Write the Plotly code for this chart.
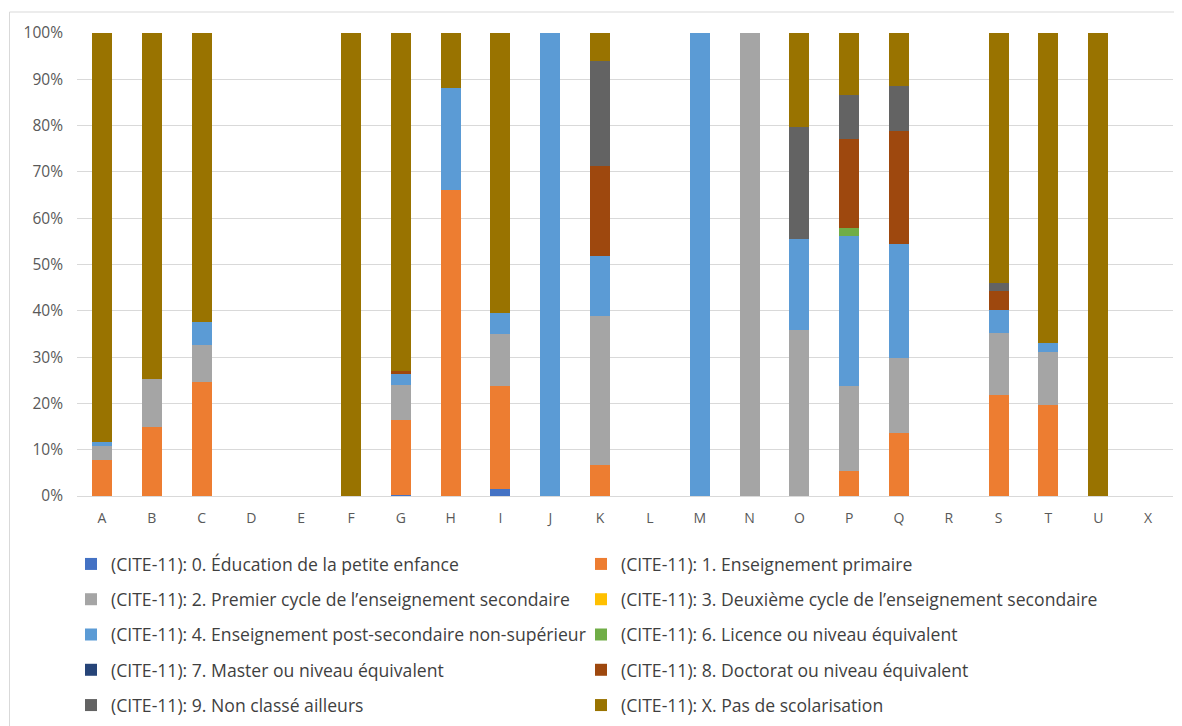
import plotly.graph_objects as go

categories = ["A","B","C","D","E","F","G","H","I","J","K","L","M","N","O","P","Q","R","S","T","U","X"]

s0 = [0,0,0,0,0,0,0.3,0,1.5,0,0,0,0,0,0,0,0,0,0,0,0,0]
s1 = [7.8,14.8,24.6,0,0,0,16.2,66.0,22.2,0,6.6,0,0,0,0,5.3,13.7,0,21.9,19.7,0,0]
s2 = [3.1,10.4,8.1,0,0,0,7.5,0,11.3,0,32.3,0,0,100,35.9,18.4,16.0,0,13.4,11.4,0,0]
s3 = [0]*22
s4 = [0.8,0,4.9,0,0,0,2.3,22.2,4.5,100,13.0,0,100,0,19.6,32.4,24.8,0,4.8,2.0,0,0]
s6 = [0,0,0,0,0,0,0,0,0,0,0,0,0,0,0,1.8,0,0,0,0,0,0]
s7 = [0]*22
s8 = [0,0,0,0,0,0,0.8,0,0,0,19.4,0,0,0,0,19.1,24.3,0,4.2,0,0,0]
s9 = [0,0,0,0,0,0,0,0,0,0,22.6,0,0,0,24.1,9.6,9.7,0,1.8,0,0,0]
sX = [88.3,74.8,62.4,0,0,100,72.9,11.8,60.5,0,6.1,0,0,0,20.4,13.4,11.5,0,53.9,66.9,100,0]

series_names = [
    "(CITE-11): 0. Éducation de la petite enfance",
    "(CITE-11): 1. Enseignement primaire",
    "(CITE-11): 2. Premier cycle de l’enseignement secondaire",
    "(CITE-11): 3. Deuxième cycle de l’enseignement secondaire",
    "(CITE-11): 4. Enseignement post-secondaire non-supérieur",
    "(CITE-11): 6. Licence ou niveau équivalent",
    "(CITE-11): 7. Master ou niveau équivalent",
    "(CITE-11): 8. Doctorat ou niveau équivalent",
    "(CITE-11): 9. Non classé ailleurs",
    "(CITE-11): X. Pas de scolarisation",
]
series_values = [s0, s1, s2, s3, s4, s6, s7, s8, s9, sX]
colors = ["#4472C4", "#ED7D31", "#A5A5A5", "#FFC000", "#5B9BD5",
          "#70AD47", "#264478", "#9E480E", "#636363", "#997300"]

FONT = "Open Sans"
fig = go.Figure()
for i, (name, vals, col) in enumerate(zip(series_names, series_values, colors)):
    fig.add_trace(go.Bar(
        x=categories, y=[v / 100 for v in vals], name=name,
        marker=dict(color=col, line=dict(width=0)),
        legend="legend" if i % 2 == 0 else "legend2",
        legendgroup="g%d" % i,
    ))

# page body has an 8px default margin
OFF = 8
W, H = 1182 - OFF, 726 - OFF
L, R, T, B = 77 - OFF, 9, 33 - OFF, 230
pw = W - L - R
ph = H - T - B

def px(x):  # x in screen (reference) pixels
    return (x - OFF - L) / pw

def py(y):
    return (H - B - (y - OFF)) / ph

legend_common = dict(
    orientation="v", yanchor="top", xanchor="left",
    font=dict(family=FONT, size=17.6, color="#3F3F3F"),
    bgcolor="rgba(0,0,0,0)", tracegroupgap=9.4, itemwidth=30,
    traceorder="grouped",
)

fig.update_layout(
    width=W, height=H,
    margin=dict(l=L, r=R, t=T, b=B, autoexpand=False),
    barmode="stack", bargap=0.6,
    plot_bgcolor="white", paper_bgcolor="white",
    font=dict(family=FONT, size=13, color="#595959"),
    xaxis=dict(showgrid=False, showline=True, linecolor="#D9D9D9", linewidth=1,
               ticks="", tickfont=dict(family=FONT, size=14, color="#595959"),
               ticklabelstandoff=9, fixedrange=True),
    yaxis=dict(range=[0, 1], tickformat=".0%", dtick=0.1, showgrid=True,
               gridcolor="#D9D9D9", gridwidth=1, zeroline=False, showline=False,
               ticks="", tickfont=dict(family=FONT, size=15.5, color="#595959"),
               ticklabelstandoff=13),
    legend=dict(x=px(71), y=py(546), **legend_common),
    legend2=dict(x=px(581), y=py(546), **legend_common),
    showlegend=True,
    shapes=[dict(type="rect", xref="paper", yref="paper",
                 x0=px(9.5), x1=px(1195), y0=py(745), y1=py(12),
                 line=dict(color="#D9D9D9", width=1), layer="below")],
)

fig.write_html("out.html")
